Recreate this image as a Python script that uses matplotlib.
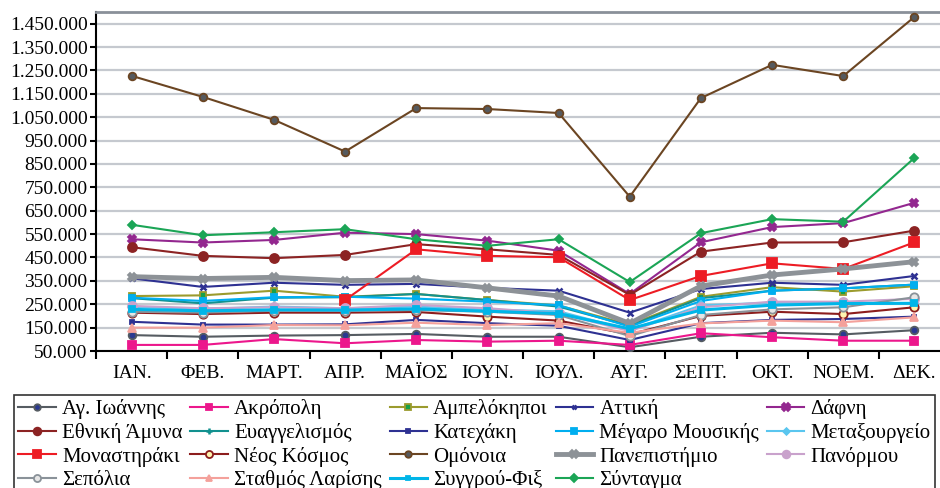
import numpy as np
import matplotlib
matplotlib.use("Agg")
import matplotlib.pyplot as plt
from matplotlib.ticker import FuncFormatter, FixedLocator

plt.rcParams['font.family'] = ['Liberation Serif', 'DejaVu Serif']

months = ["ΙΑΝ.", "ΦΕΒ.", "ΜΑΡΤ.", "ΑΠΡ.", "ΜΑΪΟΣ", "ΙΟΥΝ.", "ΙΟΥΛ.",
          "ΑΥΓ.", "ΣΕΠΤ.", "ΟΚΤ.", "ΝΟΕΜ.", "ΔΕΚ."]

# values in thousands of passengers
ag_ioannis = [118, 111, 116, 118, 123, 111, 111, 66, 111, 128, 121, 139]
akropoli = [76, 76, 101, 83, 97, 90, 94, 76, 126, 109, 94, 94]
ampelokipoi = [285, 288, 308, 282, 294, 268, 245, 162, 282, 323, 304, 327]
attiki = [361, 324, 342, 333, 337, 320, 308, 214, 315, 342, 333, 371]
dafni = [528, 514, 525, 556, 550, 522, 479, 294, 515, 580, 597, 684]
ethniki_amyna = [494, 457, 447, 461, 507, 485, 461, 290, 475, 514, 515, 565]
evangelismos = [276, 254, 278, 280, 294, 268, 240, 158, 276, 308, 318, 334]
katehaki = [175, 163, 163, 164, 183, 169, 158, 97, 169, 183, 187, 197]
megaro = [278, 264, 280, 282, 274, 261, 246, 154, 264, 308, 318, 334]
metaxourgeio = [238, 230, 240, 233, 240, 227, 220, 140, 245, 257, 257, 254]
monastiraki = [np.nan, np.nan, np.nan, 268, 485, 457, 451, 268, 371, 425, 401, 515]
neos_kosmos = [214, 208, 214, 214, 217, 197, 180, 121, 200, 218, 208, 237]
omonoia = [1227, 1137, 1039, 903, 1089, 1085, 1068, 710, 1132, 1274, 1226, 1479]
panepistimio = [368, 360, 365, 351, 354, 320, 285, 168, 328, 375, 401, 432]
panormou = [243, 233, 237, 233, 247, 233, 211, 135, 237, 261, 261, 273]
sepolia = [218, 214, 222, 222, 225, 218, 204, 114, 204, 228, 237, 280]
larisis = [150, 150, 161, 160, 171, 161, 169, 128, 168, 180, 173, 194]
syggrou = [228, 222, 226, 225, 230, 220, 210, 145, 225, 246, 253, 254]
syntagma = [590, 545, 558, 571, 528, 500, 528, 345, 554, 614, 603, 876]

# name, data, line colour, marker, marker size, face, edge, line width
series = [
    ("Αγ. Ιωάννης", ag_ioannis, "#565c62", "o", 5.5, "#2b3990", "#565c62", 1.5),
    ("Ακρόπολη", akropoli, "#ec178c", "s", 5.5, "#ec178c", "#ec178c", 1.5),
    ("Αμπελόκηποι", ampelokipoi, "#9b9b2e", "s", 4.5, "#17a04b", "#9b9b2e", 1.5),
    ("Αττική", attiki, "#2e3192", "x", 4, "#2e3192", "#2e3192", 1.5),
    ("Δάφνη", dafni, "#93278f", "X", 6, "#93278f", "#93278f", 1.5),
    ("Εθνική Άμυνα", ethniki_amyna, "#8c2323", "o", 6.5, "#8c2323", "#8c2323", 1.5),
    ("Ευαγγελισμός", evangelismos, "#12918f", "+", 5, "#12918f", "#12918f", 1.5),
    ("Κατεχάκη", katehaki, "#2e3192", "s", 3.5, "#2e3192", "#2e3192", 1.5),
    ("Μέγαρο Μουσικής", megaro, "#00aeef", "s", 5, "#00aeef", "#00aeef", 1.5),
    ("Μεταξουργείο", metaxourgeio, "#5ac6ef", "D", 4, "#5ac6ef", "#5ac6ef", 1.5),
    ("Μοναστηράκι", monastiraki, "#ed1c24", "s", 6.5, "#ed1c24", "#ed1c24", 1.5),
    ("Νέος Κόσμος", neos_kosmos, "#8c1d1d", "o", 6, "#fff4b0", "#8c1d1d", 1.5),
    ("Ομόνοια", omonoia, "#6b4522", "o", 5.5, "#555a5f", "#6b4522", 1.5),
    ("Πανεπιστήμιο", panepistimio, "#8d9297", "X", 6, "#8d9297", "#8d9297", 3.5),
    ("Πανόρμου", panormou, "#c9a2cc", "o", 6.5, "#c9a2cc", "#c9a2cc", 1.5),
    ("Σεπόλια", sepolia, "#8a9299", "o", 6, "#e6e6e6", "#8a9299", 1.5),
    ("Σταθμός Λαρίσης", larisis, "#f4a19b", "^", 5.5, "#f4a19b", "#f4a19b", 1.5),
    ("Συγγρού-Φιξ", syggrou, "#00b5e8", "s", 4, "#00b5e8", "#00b5e8", 2.2),
    ("Σύνταγμα", syntagma, "#1ba556", "D", 4.5, "#1ba556", "#1ba556", 1.5),
]

fig = plt.figure(figsize=(9.4, 4.88), dpi=100)
ax = fig.add_axes([96 / 940, 1 - 351 / 488, 854 / 940, 339 / 488])

x = np.arange(len(months))
handles = []
for name, vals, col, mk, ms, fc, ec, lw in series:
    y = np.array(vals, dtype=float) * 1000
    h, = ax.plot(x, y, color=col, lw=lw, marker=mk, ms=ms, mfc=fc, mec=ec,
                 mew=1.3 if mk not in ("x", "+") else 1.8, label=name, zorder=3)
    handles.append(h)

ax.set_xlim(-0.5, 11.5)
ax.set_ylim(50000, 1500000)
ax.set_yticks(np.arange(50000, 1450001, 100000))
ax.yaxis.set_major_formatter(FuncFormatter(lambda v, p: f"{v:,.0f}".replace(",", ".")))
ax.yaxis.grid(True, color="#c5c9cf", lw=1.6, zorder=0)
ax.set_axisbelow(True)

ax.set_xticks(x)
ax.set_xticklabels(months)
ax.xaxis.set_minor_locator(FixedLocator(np.arange(-0.5, 12, 1)))
ax.tick_params(axis="x", which="major", length=0, pad=10, labelsize=14)
ax.tick_params(axis="x", which="minor", length=6, width=1.5, direction="out")
ax.tick_params(axis="y", length=4, width=1.5, direction="out", labelsize=14, pad=2)

ax.spines["right"].set_visible(False)
ax.spines["top"].set_color("#8a9099")
ax.spines["top"].set_linewidth(2)
ax.spines["left"].set_linewidth(1.5)
ax.spines["bottom"].set_linewidth(1.5)

# legend is filled row by row in the original
ncol = 5
n = len(handles)
nrows = int(np.ceil(n / ncol))
order = []
for c in range(ncol):
    for r in range(nrows):
        i = r * ncol + c
        if i < n:
            order.append(i)
leg = fig.legend([handles[i] for i in order], [series[i][0] for i in order],
                 loc="upper left", bbox_to_anchor=(14 / 940, 1 - 395 / 488, 921 / 940, 0),
                 mode="expand", ncol=ncol, fontsize=15, frameon=True, fancybox=False,
                 edgecolor="black", labelspacing=0.18, handlelength=1.8,
                 handletextpad=0.3, borderaxespad=0, borderpad=0.2, markerscale=0.85)
leg.get_frame().set_linewidth(1.2)

fig.savefig("out.png", dpi=100)
